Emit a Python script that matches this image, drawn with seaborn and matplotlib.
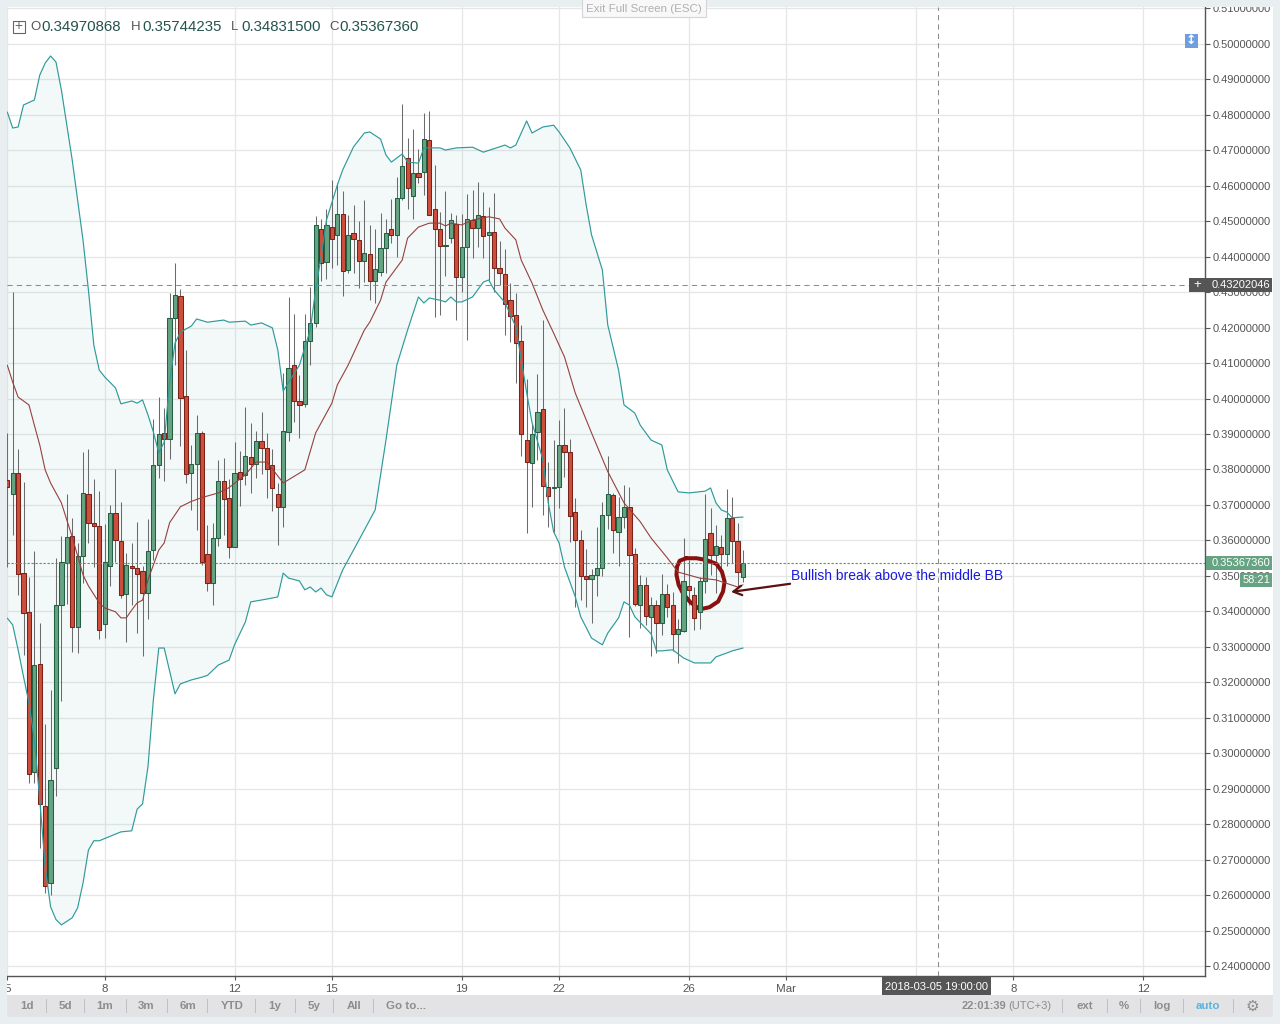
import numpy as np
import matplotlib
matplotlib.use("Agg")
import matplotlib.pyplot as plt
from matplotlib.patches import Rectangle
import seaborn as sns

# ---- data -------------------------------------------------------------
dirs = list(
    "RGRRRGRRGG" "GGRGGRRRGG" "RRGRRRGGGR" "GGRRGGRRGG"
    "RRGRGRGRRR" "RGGRRGGGRG" "RGRGRRGRGG" "GRGGRGRGRR"
    "RGGRGGRGRG" "RRRRRRRGGR" "RGGRRRRRGG" "GGRGGRRGRG"
    "RGRRGGRRGG" "RGRGRRG"
)
tops = [.3770,.3789,.3789,.3508,.3398,.3248,.3251,.2851,.2924,.3418,.3538,.3609,.3612,.3556,.3733,.3730,.3648,.3640,.3540,.3677,
        .3677,.3598,.3530,.3527,.3522,.3513,.3570,.3812,.3899,.3902,.4226,.4291,.4288,.4006,.3815,.3902,.3902,.3561,.3606,.3767,
        .3767,.3719,.3789,.3792,.3837,.3834,.3879,.3879,.3860,.3812,.3730,.3908,.4085,.4094,.3992,.4161,.4212,.4488,.4477,.4488,
        .4482,.4519,.4519,.4462,.4465,.4446,.4409,.4406,.4364,.4423,.4465,.4477,.4564,.4654,.4677,.4634,.4634,.4730,.4727,.4533,
        .4477,.4432,.4502,.4491,.4426,.4505,.4502,.4516,.4513,.4468,.4468,.4367,.4350,.4277,.4234,.4161,.3882,.3899,.3961,.3970,
        .3750,.3750,.3868,.3868,.3848,.3679,.3601,.3499,.3502,.3522,.3671,.3730,.3727,.3665,.3693,.3693,.3562,.3474,.3474,.3418,
        .3418,.3449,.3449,.3418,.3350,.3485,.3472,.3446,.3485,.3603,.3620,.3584,.3581,.3662,.3662,.3598,.3537]
bots = [.3752,.3730,.3506,.3395,.2942,.2947,.2857,.2626,.2634,.2958,.3418,.3536,.3355,.3355,.3556,.3648,.3640,.3347,.3364,.3527,
        .3601,.3446,.3449,.3522,.3505,.3451,.3451,.3572,.3812,.3885,.3885,.4226,.4001,.3787,.3790,.3815,.3540,.3479,.3479,.3606,
        .3716,.3581,.3581,.3772,.3784,.3815,.3815,.3860,.3801,.3747,.3693,.3693,.3905,.3992,.3981,.3984,.4161,.4212,.4381,.4384,
        .4449,.4462,.4358,.4361,.4449,.4387,.4387,.4330,.4330,.4356,.4423,.4462,.4462,.4564,.4592,.4570,.4623,.4637,.4516,.4477,
        .4429,.4429,.4451,.4341,.4341,.4426,.4480,.4480,.4457,.4460,.4367,.4353,.4266,.4232,.4156,.3899,.3820,.3817,.3905,.3753,
        .3725,.3747,.3750,.3848,.3668,.3601,.3499,.3491,.3491,.3502,.3522,.3671,.3629,.3623,.3665,.3558,.3421,.3418,.3387,.3384,
        .3367,.3367,.3412,.3336,.3336,.3344,.3460,.3381,.3398,.3485,.3558,.3558,.3561,.3561,.3598,.3510,.3497]
highs = [.3903,.4301,.3858,.3766,.3498,.3571,.3367,.3083,.3179,.3551,.3613,.3731,.3664,.3593,.3850,.3858,.3773,.3739,.3646,.3700,
         .3801,.3708,.3565,.3592,.3653,.3528,.3660,.3941,.4005,.3973,.4296,.4381,.4308,.4137,.3869,.3954,.3909,.3644,.3650,.3827,
         .3833,.3772,.3877,.3852,.3976,.3930,.3908,.3962,.3902,.3858,.3762,.4071,.4285,.4238,.4066,.4238,.4313,.4514,.4506,.4533,
         .4615,.4606,.4585,.4517,.4544,.4500,.4559,.4488,.4477,.4524,.4505,.4563,.4623,.4829,.4733,.4759,.4702,.4803,.4810,.4657,
         .4526,.4585,.4524,.4517,.4519,.4575,.4587,.4609,.4581,.4539,.4578,.4444,.4421,.4325,.4296,.4207,.4055,.3930,.4069,.4221,
         .3822,.3883,.3939,.3972,.3885,.3719,.3630,.3576,.3520,.3639,.3708,.3838,.3734,.3723,.3756,.3752,.3580,.3503,.3496,.3440,
         .3432,.3506,.3478,.3456,.3378,.3607,.3545,.3470,.3498,.3731,.3691,.3644,.3615,.3744,.3722,.3648,.3574]
lows = [.3525,.3615,.3445,.3278,.2918,.2918,.2735,.2607,.2601,.2881,.3149,.3421,.3287,.3284,.3481,.3592,.3526,.3323,.3326,.3472,
        .3540,.3438,.3315,.3418,.3340,.3275,.3378,.3545,.3775,.3768,.3830,.4094,.3866,.3761,.3686,.3630,.3531,.3458,.3418,.3585,
        .3615,.3552,.3582,.3698,.3756,.3735,.3777,.3787,.3721,.3684,.3587,.3639,.3881,.3935,.3890,.3975,.4094,.4202,.4332,.4337,
        .4367,.4376,.4290,.4353,.4354,.4312,.4329,.4277,.4270,.4345,.4353,.4437,.4399,.4559,.4533,.4505,.4608,.4573,.4559,.4230,
        .4235,.4346,.4437,.4221,.4301,.4165,.4395,.4428,.4395,.4334,.4301,.4320,.4179,.4160,.4043,.3839,.3622,.3695,.3827,.3672,
        .3639,.3625,.3691,.3778,.3597,.3413,.3431,.3413,.3367,.3444,.3501,.3632,.3564,.3529,.3635,.3329,.3415,.3353,.3362,.3275,
        .3284,.3334,.3385,.3290,.3254,.3343,.3418,.3348,.3350,.3453,.3503,.3453,.3515,.3528,.3536,.3465,.3483]

up_idx = [0,1,2,3,5,6,7,8,9,10,12,13,14,15,16,17,18,20,21,23,24,25,26,27,28,29,30,31,32,34,35,37,40,41,44,45,47,49,50,51,54,56,57,58,59,61,62,64,66,67,69,70,71,73,74,76,77,80,81,83,86,88,92,93,94,95,96,97,99,101,102,104,106,107,108,110,111,113,114,116,117,119,121,122,124,126,129,130,131,132,133,134,136]
up_val = [.4807,.4762,.4765,.4827,.4841,.4911,.4945,.4965,.4948,.4869,.4672,.4559,.4446,.4305,.4150,.4080,.4061,.4030,.3985,.3993,.3987,.3996,.3954,.3906,.3847,.3877,.4044,.4156,.4187,.4204,.4224,.4215,.4221,.4215,.4218,.4207,.4213,.4199,.4137,.4021,.4094,.4193,.4306,.4399,.4503,.4601,.4644,.4709,.4748,.4751,.4731,.4686,.4666,.4689,.4666,.4663,.4706,.4706,.4700,.4706,.4708,.4694,.4714,.4706,.4714,.4748,.4782,.4748,.4765,.4770,.4751,.4706,.4644,.4546,.4461,.4362,.4207,.4080,.3982,.3959,.3925,.3883,.3869,.3799,.3737,.3734,.3739,.3748,.3706,.3686,.3680,.3664,.3666]
lo_idx = [0,1,2,3,4,5,6,7,8,9,10,12,13,14,15,16,17,21,23,24,25,26,27,28,29,31,32,34,36,37,39,41,42,44,45,48,50,51,52,54,55,56,57,58,59,60,62,65,68,70,72,74,76,77,78,80,81,82,83,84,86,88,89,90,92,94,95,96,97,99,100,101,102,103,105,106,108,110,111,113,114,115,116,119,120,121,123,125,127,130,131,133,134,136]
lo_val = [.3381,.3362,.3292,.3216,.3143,.3039,.2870,.2681,.2568,.2532,.2517,.2537,.2565,.2635,.2728,.2754,.2754,.2779,.2782,.2843,.2858,.2962,.3151,.3297,.3297,.3168,.3196,.3207,.3215,.3220,.3249,.3263,.3306,.3370,.3427,.3435,.3441,.3508,.3494,.3486,.3461,.3469,.3455,.3466,.3447,.3441,.3517,.3601,.3686,.3883,.4094,.4193,.4286,.4269,.4283,.4277,.4272,.4286,.4272,.4272,.4286,.4328,.4334,.4306,.4270,.4202,.4110,.4017,.3932,.3828,.3706,.3624,.3593,.3525,.3441,.3385,.3325,.3306,.3339,.3382,.3427,.3418,.3385,.3337,.3289,.3289,.3292,.3269,.3255,.3255,.3272,.3283,.3289,.3297]
mid_idx = [0,1,2,4,5,6,7,8,10,12,14,15,17,18,20,21,22,23,24,25,26,28,29,30,32,34,36,39,41,44,46,48,51,55,57,60,61,63,66,67,69,70,73,74,76,78,80,81,82,84,86,89,91,92,94,95,97,99,101,103,105,108,111,114,117,119,122,124,128,131,135,136]
mid_val = [.4094,.4046,.4004,.3982,.3925,.3869,.3799,.3762,.3706,.3610,.3503,.3472,.3424,.3410,.3399,.3382,.3382,.3404,.3424,.3432,.3489,.3573,.3593,.3650,.3695,.3710,.3721,.3734,.3749,.3785,.3821,.3821,.3762,.3799,.3903,.3987,.4038,.4094,.4193,.4215,.4277,.4328,.4390,.4452,.4483,.4494,.4494,.4486,.4494,.4489,.4503,.4512,.4506,.4480,.4447,.4390,.4325,.4249,.4184,.4117,.4015,.3903,.3794,.3706,.3653,.3607,.3551,.3511,.3494,.3489,.3469,.3475]

y_ticks = [round(.24 + .01 * k, 2) for k in range(28)]
x_tick_pos = [0, 18, 42, 60, 84, 102, 126, 144, 168, 186, 210]
x_tick_lab = ["5", "8", "12", "15", "19", "22", "26", "Mar", "", "8", "12"]
ohlc_labels = ["O", "H", "L", "C"]
ohlc_values = ["0.34970868", "0.35744235", "0.34831500", "0.35367360"]
last_price = 0.35367360
cross_price = 0.43202046
cross_idx = 172
circle_idx = [125.5,124.3,123.8,123.7,124.1,124.9,126.2,128.0,129.8,131.4,132.3,132.6,132.1,131.1,129.2,127.4,125.5]
circle_val = [.3550,.3543,.3526,.3503,.3475,.3451,.3427,.3406,.3412,.3428,.3456,.3484,.3512,.3534,.3545,.3550,.3550]
left_bar = ["1d","5d","1m","3m","6m","YTD","1y","5y","All","Go to..."]
right_bar = ["ext","%","log"]

# ---- style ------------------------------------------------------------
sns.set_theme(style="white")
plt.rcParams["font.family"] = ["Liberation Sans", "DejaVu Sans"]
BG = "#e9eef1"; GRID = "#e5e7e7"; AX = "#555555"
RED = "#cc4f3c"; RED_E = "#7a211a"; GRN = "#65a382"; GRN_E = "#235f42"
W, H = 1280, 1024

fig = plt.figure(figsize=(12.8, 10.24), dpi=100, facecolor="white")
ax = fig.add_axes([7/W, 1-976/H, (1205-7)/W, (976-7)/H])
ax.set_xlim(-0.055, 221.4)
ax.set_ylim(0.2373, 0.5103)

ax.set_axisbelow(True)
ax.set_yticks(y_ticks)
ax.set_yticklabels([f"{v:.8f}" for v in y_ticks])
ax.set_xticks(x_tick_pos)
ax.set_xticklabels(x_tick_lab)
ax.grid(True, color=GRID, lw=0.9)
ax.yaxis.tick_right()
ax.tick_params(axis="y", length=3.6, width=0.8, color=AX, pad=1.6, labelsize=8.0, labelcolor=AX, right=True)
ax.tick_params(axis="x", length=3, width=0.8, color=AX, pad=2.5, labelsize=8.25, labelcolor=AX, bottom=True)
for s in ("top", "left"):
    ax.spines[s].set_visible(False)
for s in ("bottom", "right"):
    ax.spines[s].set_color(AX); ax.spines[s].set_linewidth(1.0)

# bands fill
ax.fill(np.r_[up_idx, lo_idx[::-1]], np.r_[up_val, lo_val[::-1]], color="#339999", alpha=0.06, lw=0, zorder=1)

# candles
idx = np.arange(len(tops))
is_up = np.array([d == "G" for d in dirs])
ax.vlines(idx, lows, highs, color="#6b6b6b", lw=0.75, zorder=3)
ax.plot(circle_idx, circle_val, color="#8a0f0f", lw=2.9, solid_capstyle="round", solid_joinstyle="round", zorder=3.5)
tops_a, bots_a = np.array(tops), np.array(bots)
for mask, fc, ec in ((is_up, GRN, GRN_E), (~is_up, RED, RED_E)):
    ax.bar(idx[mask], (tops_a - bots_a)[mask], bottom=bots_a[mask], width=0.78,
           color=fc, edgecolor=ec, linewidth=0.75, zorder=4)

# bollinger lines through seaborn
sns.lineplot(x=up_idx, y=up_val, ax=ax, color="#2f9a9a", lw=0.85, estimator=None, sort=False, zorder=5)
sns.lineplot(x=lo_idx, y=lo_val, ax=ax, color="#2f9a9a", lw=0.85, estimator=None, sort=False, zorder=5)
sns.lineplot(x=mid_idx, y=mid_val, ax=ax, color="#96403f", lw=0.8, estimator=None, sort=False, zorder=5)

# price and cross-hair lines
ax.axhline(last_price, color="#3f9a6b", lw=0.8, ls=(0, (2, 1.6)), zorder=6)
ax.axhline(cross_price, color="#8c8c8c", lw=0.75, ls=(0, (5, 4)), zorder=6)
ax.axvline(cross_idx, color="#8c8c8c", lw=0.75, ls=(0, (5, 4)), zorder=6)

# drawings
ax.annotate("", xy=(133.8, .3455), xytext=(144.7, .3478),
            arrowprops=dict(arrowstyle="->,head_length=0.5,head_width=0.28", color="#5a1010", lw=1.6, shrinkA=0, shrinkB=0), zorder=7)
ax.text(144.9, .3500, "Bullish break above the middle BB", color="#1a1ae0", fontsize=10.03, va="center", ha="left", zorder=8)

# ---- page chrome -------------------------------------------------------
def rect(x0, y0, x1, y1, **kw):
    r = Rectangle((x0/W, 1-y1/H), (x1-x0)/W, (y1-y0)/H, transform=fig.transFigure, **kw)
    fig.add_artist(r)
    return r

def txt(x, y, s, **kw):
    kw.setdefault("va", "center")
    kw.setdefault("fontsize", 8.0)
    return fig.text(x/W, 1-y/H, s, zorder=20, **kw)

rect(0, 0, W, 6.5, fc=BG, ec="none", zorder=10)
rect(0, 0, 6.5, H, fc=BG, ec="none", zorder=10)
rect(1273, 0, W, H, fc=BG, ec="none", zorder=10)
rect(0, 1017, W, H, fc=BG, ec="none", zorder=10)
rect(7, 995, 1273, 1017, fc="#e3e3e5", ec="none", zorder=11)

# exit full screen
rect(582, -2, 706, 17, fc="#f8f8f8", ec="#d5d5d5", lw=0.8, zorder=11)
txt(644, 9, "Exit Full Screen (ESC)", ha="center", color="#b0b0b0", fontsize=8.25)

# OHLC legend
rect(12.5, 20.5, 24.5, 32.5, fc="white", ec="#666666", lw=0.8, zorder=12)
txt(18.5, 26, "+", ha="center", color="#666666", fontsize=10)
for lx, vx, l, v in zip((30, 130.5, 231, 329), (41, 142, 241, 339), ohlc_labels, ohlc_values):
    txt(lx, 27, l, color="#555555", fontsize=9.5)
    txt(vx, 27, v, color="#24534d", fontsize=10.8)

# blue icon
rect(1184.5, 34, 1198, 48, fc="#6f9fe0", ec="none", zorder=12)
txt(1191.2, 41, "\u2195", ha="center", color="white", fontsize=9, fontweight="bold", family="DejaVu Sans")

# price labels
rect(1205.5, 278, 1272, 292, fc="#555555", ec="none", zorder=12)
rect(1189, 278, 1205, 292, fc="#555555", ec="none", zorder=12)
txt(1197, 285, "+", ha="center", color="white", fontsize=9.5)
txt(1212, 285, f"{cross_price:.8f}", color="white")
rect(1205.5, 556, 1272, 570, fc=GRN, ec="none", zorder=12)
txt(1212, 563, f"{last_price:.8f}", color="white")
rect(1239.5, 573, 1272, 587, fc=GRN, ec="none", zorder=12)
txt(1243, 580, "58:21", color="white")

# date label
rect(882, 976.5, 991, 995, fc="#555555", ec="none", zorder=12)
txt(936.5, 986.5, "2018-03-05 19:00:00", ha="center", color="white", fontsize=8.0)

# bottom toolbar
for x, s in zip((27, 65, 105, 146, 188, 232, 275, 314, 354, 406), left_bar):
    txt(x, 1006, s, ha="center", color="#8d8d8d", fontweight="bold", fontsize=8.25)
for x, s in zip((1085, 1124, 1162), right_bar):
    txt(x, 1006, s, ha="center", color="#8d8d8d", fontweight="bold", fontsize=8.25)
txt(1208, 1006, "auto", ha="center", color="#5ab4de", fontweight="bold", fontsize=8.25)
txt(962, 1006, "22:01:39", color="#8d8d8d", fontweight="bold", fontsize=8.0)
txt(1008, 1006, "(UTC+3)", color="#8d8d8d", fontsize=8.0)
txt(1252, 1006, "\u2699", ha="center", color="#8d8d8d", fontsize=11, family="DejaVu Sans")
for x in (46, 84, 126, 167, 207, 255, 295, 333, 373, 1062, 1107, 1140, 1183, 1233):
    rect(x, 999, x + 0.8, 1013, fc="#c0c0c2", ec="none", zorder=12)

fig.savefig("out.png", dpi=100, facecolor="white")
